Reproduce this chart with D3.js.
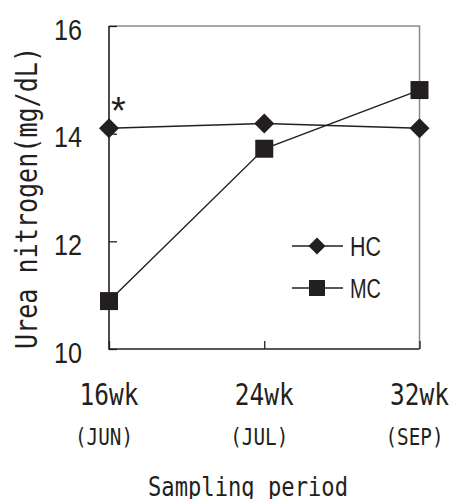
<!DOCTYPE html>
<html>
<head>
<meta charset="utf-8">
<script src="https://cdn.jsdelivr.net/npm/d3@7"></script>
<style>
  body { margin: 0; background: #fff; }
  svg { display: block; }
</style>
</head>
<body>
<script>
var weeks = [16, 24, 32],
    weekLabels = ["16wk", "24wk", "32wk"],
    monthLabels = ["(JUN)", "(JUL)", "(SEP)"],
    hcValues = [14.1, 14.19, 14.1],
    mcValues = [10.89, 13.72, 14.81],
    yTicks = [10, 12, 14, 16];

var width = 453, height = 499,
    ink = "#231f20",
    sans = "'Liberation Sans', Arial, sans-serif",
    mono = "'DejaVu Sans Mono', 'Liberation Mono', monospace";

// plot box (named so they don't clash with window.top)
var plotL = 109, plotR = 419.5, plotT = 26, plotB = 349;

var x = d3.scaleLinear().domain([16, 32]).range([plotL, plotR]);
var y = d3.scaleLinear().domain([10, 16]).range([plotB, plotT]);

var svg = d3.select("body").append("svg")
    .attr("width", width)
    .attr("height", height);

// frame: top and right in grey, left and bottom in black
svg.append("path")
    .attr("d", "M" + plotL + "," + plotT + "H" + plotR + "V" + plotB)
    .style("fill", "none")
    .style("stroke", "#8a8a8a")
    .style("stroke-width", 1.5);

// y axis
var yAxis = svg.append("g")
    .attr("transform", "translate(" + plotL + ",0)")
    .call(d3.axisLeft(y).tickValues(yTicks).tickFormat(d3.format("d"))
        .tickSizeInner(-8).tickSizeOuter(0).tickPadding(27));
yAxis.select(".domain").remove();
yAxis.selectAll(".tick line").style("stroke", ink).style("stroke-width", 1.3);
yAxis.selectAll(".tick text")
    .attr("dy", "0.45em")
    .attr("textLength", 28)
    .attr("lengthAdjust", "spacingAndGlyphs")
    .style("font-family", sans)
    .style("font-size", "29px")
    .style("fill", ink);

// x axis
var xAxis = svg.append("g")
    .attr("transform", "translate(0," + plotB + ")")
    .call(d3.axisBottom(x).tickValues(weeks).tickSizeInner(-8).tickSizeOuter(0).tickFormat(""));
xAxis.select(".domain").remove();
xAxis.selectAll(".tick line").style("stroke", ink).style("stroke-width", 1.3);

svg.append("line")
    .attr("x1", plotL).attr("x2", plotL).attr("y1", plotT).attr("y2", plotB + 0.75)
    .style("stroke", ink).style("stroke-width", 1.6);
svg.append("line")
    .attr("x1", plotL).attr("x2", plotR).attr("y1", plotB).attr("y2", plotB)
    .style("stroke", ink).style("stroke-width", 1.6);

svg.selectAll(".wk")
    .data(weeks)
    .enter().append("text")
    .attr("class", "wk")
    .attr("x", function(d) { return x(d); })
    .attr("y", 405)
    .attr("text-anchor", "middle")
    .attr("textLength", 59)
    .attr("lengthAdjust", "spacingAndGlyphs")
    .style("font-family", mono)
    .style("font-size", "31px")
    .style("fill", ink)
    .text(function(d, i) { return weekLabels[i]; });

svg.selectAll(".month")
    .data(weeks)
    .enter().append("text")
    .attr("class", "month")
    .attr("x", function(d) { return x(d) - 5; })
    .attr("y", 445)
    .attr("text-anchor", "middle")
    .attr("textLength", 58)
    .attr("lengthAdjust", "spacingAndGlyphs")
    .style("font-family", mono)
    .style("font-size", "23px")
    .style("fill", ink)
    .text(function(d, i) { return monthLabels[i]; });

svg.append("text")
    .attr("x", 248)
    .attr("y", 496)
    .attr("text-anchor", "middle")
    .attr("textLength", 200)
    .attr("lengthAdjust", "spacingAndGlyphs")
    .style("font-family", mono)
    .style("font-size", "26px")
    .style("fill", ink)
    .text("Sampling period");

svg.append("text")
    .attr("transform", "translate(37,198) rotate(-90)")
    .attr("text-anchor", "middle")
    .attr("textLength", 302)
    .attr("lengthAdjust", "spacingAndGlyphs")
    .style("font-family", mono)
    .style("font-size", "30px")
    .style("fill", ink)
    .text("Urea nitrogen(mg/dL)");

// series
var line = d3.line()
    .x(function(d, i) { return x(weeks[i]); })
    .y(function(d) { return y(d); });

var diamond = "M0,-10L10,0L0,10L-10,0Z";
var square = d3.symbol().type(d3.symbolSquare).size(18 * 18);

svg.append("path")
    .datum(hcValues)
    .attr("d", line)
    .style("fill", "none").style("stroke", ink).style("stroke-width", 1.4);
svg.append("path")
    .datum(mcValues)
    .attr("d", line)
    .style("fill", "none").style("stroke", ink).style("stroke-width", 1.4);

svg.selectAll(".hc")
    .data(hcValues)
    .enter().append("path")
    .attr("class", "hc")
    .attr("transform", function(d, i) { return "translate(" + x(weeks[i]) + "," + y(d) + ")"; })
    .attr("d", diamond)
    .style("fill", ink);

svg.selectAll(".mc")
    .data(mcValues)
    .enter().append("path")
    .attr("class", "mc")
    .attr("transform", function(d, i) { return "translate(" + x(weeks[i]) + "," + y(d) + ")"; })
    .attr("d", square())
    .style("fill", ink);

// significance mark
svg.append("text")
    .attr("x", 118.5)
    .attr("y", 124)
    .attr("text-anchor", "middle")
    .style("font-family", sans)
    .style("font-size", "38px")
    .style("fill", ink)
    .text("*");

// legend
var legend = svg.append("g");
var items = [
  {name: "HC", y: 246, shape: "M0,-8.5L8.5,0L0,8.5L-8.5,0Z"},
  {name: "MC", y: 288, shape: d3.symbol().type(d3.symbolSquare).size(16 * 16)()}
];
items.forEach(function(it) {
  legend.append("line")
      .attr("x1", 292).attr("x2", 343).attr("y1", it.y).attr("y2", it.y)
      .style("stroke", ink).style("stroke-width", 1.4);
  legend.append("path")
      .attr("transform", "translate(317," + it.y + ")")
      .attr("d", it.shape)
      .style("fill", ink);
  legend.append("text")
      .attr("x", 350)
      .attr("y", it.y + 10)
      .attr("textLength", 31)
      .attr("lengthAdjust", "spacingAndGlyphs")
      .style("font-family", sans)
      .style("font-size", "27px")
      .style("fill", ink)
      .text(it.name);
});
</script>
</body>
</html>
